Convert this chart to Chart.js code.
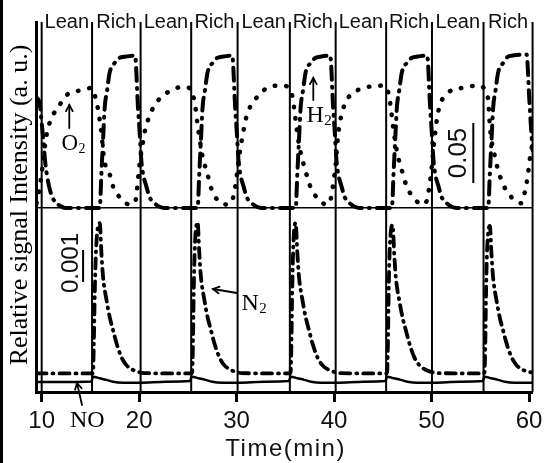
<!DOCTYPE html>
<html>
<head>
<meta charset="utf-8">
<script src="https://cdn.jsdelivr.net/npm/chart.js@4/dist/chart.umd.min.js"></script>
<style>
  html, body { margin: 0; padding: 0; background: #fff; }
  #wrap { width: 547px; height: 463px; position: relative; }
</style>
</head>
<body>
<div id="wrap"><canvas id="c" width="547" height="463"></canvas></div>
<script>
// ---------- data ----------
// gas switching times (min) and phase names
const switchTimes = [10.0, 15.17, 20.15, 25.34, 30.1, 35.46, 40.16, 45.34, 50.04, 55.33, 60.36];
const phaseLabels = ['Lean', 'Rich', 'Lean', 'Rich', 'Lean', 'Rich', 'Lean', 'Rich', 'Lean', 'Rich'];
const xTickValues = [10, 20, 30, 40, 50, 60];

// H2 (upper panel, a.u.)
const h2Time = [9.47, 9.8, 10.0, 10.17, 10.34, 10.51, 10.85, 11.36, 11.87, 12.4,
  15.96, 16.13, 16.30, 16.47, 16.71, 16.98, 17.50, 17.96, 18.47, 19.58, 19.88, 20.05, 20.22, 20.39, 20.74, 21.07, 21.58, 22.10, 22.60,
  26.00, 26.17, 26.34, 26.51, 26.75, 27.02, 27.54, 28.00, 28.51, 29.55, 29.85, 30.02, 30.19, 30.36, 30.71, 31.04, 31.55, 32.07, 32.57,
  36.06, 36.23, 36.40, 36.57, 36.81, 37.08, 37.60, 38.06, 38.57, 39.60, 39.90, 40.07, 40.24, 40.41, 40.76, 41.09, 41.60, 42.12, 42.62,
  45.93, 46.10, 46.27, 46.44, 46.68, 46.95, 47.47, 47.93, 48.44, 49.55, 49.85, 50.02, 50.19, 50.36, 50.71, 51.04, 51.55, 52.07, 52.57,
  55.81, 55.98, 56.15, 56.32, 56.56, 56.83, 57.35, 57.81, 58.32, 59.75, 60.03, 60.20, 60.37];
const h2Val = [0.092, 0.087, 0.071, 0.057, 0.040, 0.029, 0.015, 0.005, 0.002, 0,
  0, 0.029, 0.057, 0.084, 0.098, 0.113, 0.121, 0.125, 0.126, 0.127, 0.084, 0.063, 0.040, 0.029, 0.018, 0.009, 0.004, 0.001, 0,
  0, 0.029, 0.057, 0.084, 0.098, 0.113, 0.121, 0.125, 0.126, 0.127, 0.084, 0.063, 0.040, 0.029, 0.018, 0.009, 0.004, 0.001, 0,
  0, 0.029, 0.057, 0.084, 0.098, 0.113, 0.121, 0.125, 0.126, 0.127, 0.084, 0.063, 0.040, 0.029, 0.018, 0.009, 0.004, 0.001, 0,
  0, 0.029, 0.057, 0.084, 0.098, 0.113, 0.121, 0.125, 0.126, 0.127, 0.084, 0.063, 0.040, 0.029, 0.018, 0.009, 0.004, 0.001, 0,
  0, 0.029, 0.057, 0.084, 0.098, 0.113, 0.121, 0.126, 0.127, 0.128, 0.090, 0.067, 0.048];

// O2 (upper panel, a.u.)
const o2Time = [9.47, 9.70, 9.90, 10.10, 10.44, 10.67, 11.13, 11.70, 12.55, 13.92, 15.10,
  15.45, 15.79, 15.96, 16.13, 16.30, 16.47, 16.98, 17.32, 18.00, 19.00, 19.50, 19.70, 19.85, 20.00,
  20.15, 20.32, 20.56, 20.89, 21.34, 22.09, 23.28, 24.47, 25.30,
  25.69, 25.84, 25.97, 26.18, 26.50, 27.02, 27.37, 28.22, 29.00, 29.55, 29.75, 29.93,
  30.10, 30.30, 30.60, 31.00, 31.50, 32.30, 33.33, 34.69, 35.37,
  35.75, 35.95, 36.10, 36.30, 36.60, 37.10, 37.50, 38.30, 39.20, 39.60, 39.80, 39.98,
  40.16, 40.40, 40.66, 41.17, 42.19, 43.55, 45.08, 45.30,
  45.65, 45.85, 46.00, 46.20, 46.50, 47.00, 47.40, 48.20, 49.10, 49.50, 49.70, 49.88,
  50.04, 50.30, 50.70, 51.70, 53.05, 54.80, 55.25,
  55.60, 55.81, 55.98, 56.49, 57.17, 58.19, 59.20, 59.56, 59.90, 60.10, 60.37];
const o2Val = [0.004, 0.013, 0.023, 0.035, 0.058, 0.067, 0.077, 0.084, 0.094, 0.098, 0.100,
  0.094, 0.082, 0.073, 0.063, 0.048, 0.038, 0.028, 0.018, 0.009, 0.003, 0.004, 0.009, 0.021, 0.033,
  0.043, 0.051, 0.063, 0.073, 0.082, 0.091, 0.098, 0.101, 0.099,
  0.088, 0.080, 0.071, 0.059, 0.043, 0.028, 0.017, 0.005, 0.003, 0.006, 0.013, 0.021,
  0.033, 0.045, 0.060, 0.076, 0.086, 0.094, 0.101, 0.102, 0.100,
  0.092, 0.080, 0.070, 0.058, 0.045, 0.030, 0.019, 0.008, 0.003, 0.006, 0.014, 0.024,
  0.036, 0.060, 0.074, 0.088, 0.097, 0.101, 0.102, 0.101,
  0.093, 0.081, 0.071, 0.059, 0.045, 0.030, 0.019, 0.008, 0.003, 0.006, 0.014, 0.024,
  0.036, 0.058, 0.081, 0.096, 0.100, 0.102, 0.101,
  0.095, 0.090, 0.068, 0.043, 0.023, 0.009, 0.004, 0.013, 0.029, 0.042, 0.055];

// N2 (lower panel, a.u.)
const n2Time = [9.47, 15.17, 15.27, 15.35, 15.45, 15.55, 15.68, 15.82, 15.96, 16.13, 16.30, 16.65, 16.98, 17.32, 17.67, 18.18, 18.69, 19.37, 19.88, 20.50,
  25.34, 25.44, 25.52, 25.60, 25.68, 25.78, 25.88, 26.00, 26.17, 26.34, 26.69, 27.02, 27.36, 27.71, 28.22, 28.73, 29.41, 29.92, 30.54,
  35.46, 35.54, 35.62, 35.70, 35.78, 35.87, 35.96, 36.06, 36.23, 36.40, 36.75, 37.08, 37.42, 37.77, 38.28, 38.79, 39.47, 39.98, 40.60,
  45.34, 45.44, 45.52, 45.60, 45.68, 45.78, 45.88, 46.00, 46.17, 46.34, 46.69, 47.02, 47.36, 47.71, 48.22, 48.73, 49.41, 49.92, 50.54,
  55.33, 55.43, 55.51, 55.59, 55.67, 55.77, 55.87, 55.98, 56.15, 56.32, 56.67, 57.00, 57.34, 57.69, 58.20, 58.71, 59.39, 59.90, 60.37];
const n2Val = [0.00058, 0.00058, 0.00062, 0.00150, 0.00313, 0.00422, 0.00494, 0.00522, 0.00528, 0.00434, 0.00359, 0.00288, 0.00234, 0.00194, 0.00153, 0.00109, 0.00084, 0.00069, 0.00063, 0.00059,
  0.00058, 0.00062, 0.00150, 0.00313, 0.00422, 0.00494, 0.00522, 0.00531, 0.00434, 0.00359, 0.00288, 0.00234, 0.00194, 0.00153, 0.00109, 0.00084, 0.00069, 0.00063, 0.00059,
  0.00058, 0.00062, 0.00150, 0.00313, 0.00422, 0.00494, 0.00522, 0.00528, 0.00434, 0.00359, 0.00288, 0.00234, 0.00194, 0.00153, 0.00109, 0.00084, 0.00069, 0.00063, 0.00059,
  0.00058, 0.00062, 0.00150, 0.00313, 0.00422, 0.00488, 0.00515, 0.00522, 0.00430, 0.00356, 0.00286, 0.00233, 0.00193, 0.00153, 0.00109, 0.00084, 0.00069, 0.00063, 0.00059,
  0.00058, 0.00062, 0.00150, 0.00313, 0.00422, 0.00485, 0.00512, 0.00519, 0.00428, 0.00355, 0.00285, 0.00232, 0.00192, 0.00152, 0.00109, 0.00084, 0.00069, 0.00063, 0.00061];

// NO (lower panel, a.u.)
const noTime = [9.47, 15.10, 15.27, 15.96, 16.64, 17.32, 18.34, 20.05, 22.77, 25.20,
  25.40, 26.10, 26.80, 27.50, 28.50, 30.20, 32.90, 35.35,
  35.55, 36.25, 36.95, 37.65, 38.65, 40.30, 43.00, 45.25,
  45.43, 46.13, 46.83, 47.53, 48.53, 50.20, 52.90, 55.25,
  55.42, 56.12, 56.82, 57.52, 58.52, 60.37];
const noVal = [0.00031, 0.00033, 0.00048, 0.00043, 0.00038, 0.00032, 0.00029, 0.00029, 0.00032, 0.00034,
  0.00048, 0.00043, 0.00038, 0.00032, 0.00029, 0.00029, 0.00032, 0.00034,
  0.00048, 0.00043, 0.00038, 0.00032, 0.00029, 0.00029, 0.00032, 0.00034,
  0.00048, 0.00043, 0.00038, 0.00032, 0.00029, 0.00029, 0.00032, 0.00034,
  0.00048, 0.00043, 0.00038, 0.00032, 0.00029, 0.00029];

// scale bars (a.u.)
const upperScaleBar = 0.05;
const lowerScaleBar = 0.001;

// ---------- helpers ----------
const pts = (t, v) => t.map((x, i) => ({ x: x, y: v[i] }));
const SANS = '"Liberation Sans", Arial, sans-serif';
const SERIF = '"Liberation Serif", "Times New Roman", serif';

function arrow(ctx, x1, y1, x2, y2) {
  ctx.save();
  ctx.strokeStyle = '#000';
  ctx.lineWidth = 1.8;
  ctx.lineCap = 'round';
  ctx.beginPath(); ctx.moveTo(x1, y1); ctx.lineTo(x2, y2); ctx.stroke();
  const a = Math.atan2(y2 - y1, x2 - x1), L = 7, s = 0.5;
  ctx.beginPath();
  ctx.moveTo(x2 - L * Math.cos(a - s), y2 - L * Math.sin(a - s));
  ctx.lineTo(x2, y2);
  ctx.lineTo(x2 - L * Math.cos(a + s), y2 - L * Math.sin(a + s));
  ctx.stroke();
  ctx.restore();
}
function chem(ctx, main, sub, x, y, size) {
  ctx.save();
  ctx.fillStyle = '#000';
  ctx.textAlign = 'left'; ctx.textBaseline = 'alphabetic';
  ctx.font = size + 'px ' + SERIF;
  ctx.fillText(main, x, y);
  const w = ctx.measureText(main).width;
  if (sub) { ctx.font = Math.round(size * 0.62) + 'px ' + SERIF; ctx.fillText(sub, x + w + 0.5, y + 3); }
  ctx.restore();
}

const decor = {
  id: 'decor',
  beforeDatasetsDraw(chart) {
    const { ctx, chartArea: ca, scales } = chart;
    ctx.save();
    ctx.strokeStyle = '#000';
    ctx.lineWidth = 2;
    switchTimes.forEach(t => {
      const x = scales.x.getPixelForValue(t);
      ctx.beginPath(); ctx.moveTo(x, ca.top); ctx.lineTo(x, ca.bottom); ctx.stroke();
    });
    ctx.restore();
  },
  afterDraw(chart) {
    const { ctx, chartArea: ca, scales } = chart;
    const X = scales.x, YU = scales.yU, YL = scales.yL;
    ctx.save();
    // left frame line
    ctx.fillStyle = '#000';
    ctx.fillRect(0, 0, 3, 463);
    // phase labels
    ctx.font = '20px ' + SANS;
    ctx.textAlign = 'center'; ctx.textBaseline = 'alphabetic';
    ctx.fillStyle = '#111';
    phaseLabels.forEach((lab, i) => {
      const xm = (X.getPixelForValue(switchTimes[i]) + X.getPixelForValue(switchTimes[i + 1])) / 2;
      ctx.fillText(lab, xm, 28);
    });
    // x title
    ctx.save();
    ctx.font = '24px ' + SANS;
    try { ctx.letterSpacing = '1.5px'; } catch (e) {}
    ctx.textAlign = 'center';
    ctx.fillText('Time(min)', (ca.left + ca.right) / 2 + 1, 456);
    ctx.restore();
    // y title
    ctx.save();
    ctx.translate(27, 205);
    ctx.rotate(-Math.PI / 2);
    ctx.font = '26px ' + SERIF;
    ctx.textAlign = 'center'; ctx.textBaseline = 'alphabetic';
    ctx.fillStyle = '#000';
    ctx.fillText('Relative signal Intensity (a. u.)', 0, 0);
    ctx.restore();
    // scale bars
    ctx.strokeStyle = '#000'; ctx.lineWidth = 2;
    const xb1 = X.getPixelForValue(54.28);
    ctx.beginPath();
    ctx.moveTo(xb1, YU.getPixelForValue(0.0208));
    ctx.lineTo(xb1, YU.getPixelForValue(0.0208 + upperScaleBar));
    ctx.stroke();
    const xb2 = X.getPixelForValue(14.25);
    ctx.beginPath();
    ctx.moveTo(xb2, YL.getPixelForValue(0.00344));
    ctx.lineTo(xb2, YL.getPixelForValue(0.00344 + lowerScaleBar));
    ctx.stroke();
    ctx.save();
    ctx.translate(466, 153); ctx.rotate(-Math.PI / 2);
    ctx.font = '26px ' + SANS; ctx.textAlign = 'center'; ctx.fillStyle = '#111';
    ctx.fillText(String(upperScaleBar), 0, 0);
    ctx.restore();
    ctx.save();
    ctx.translate(77.5, 263); ctx.rotate(-Math.PI / 2);
    ctx.font = '24px ' + SANS; ctx.textAlign = 'center'; ctx.fillStyle = '#111';
    ctx.fillText('0.001', 0, 0);
    ctx.restore();
    // species annotations
    arrow(ctx, 69.3, 128, 69.3, 105);
    chem(ctx, 'O', '2', 61.5, 150, 23);
    arrow(ctx, 313.3, 100, 313.3, 78);
    chem(ctx, 'H', '2', 306.5, 121.5, 24);
    arrow(ctx, 237, 293, 213, 289);
    chem(ctx, 'N', '2', 241.5, 310, 24);
    arrow(ctx, 82, 405, 77, 383);
    chem(ctx, 'NO', '', 70, 427, 24);
    ctx.restore();
  }
};

const common = { pointRadius: 0, fill: false, borderColor: '#000', cubicInterpolationMode: 'monotone', borderJoinStyle: 'round' };

new Chart(document.getElementById('c'), {
  type: 'line',
  data: {
    datasets: [
      Object.assign({ label: 'H2', data: pts(h2Time, h2Val), yAxisID: 'yU', borderWidth: 4, borderDash: [13, 7, 1, 7], borderCapStyle: 'round' }, common),
      Object.assign({ label: 'O2', data: pts(o2Time, o2Val), yAxisID: 'yU', borderWidth: 4.5, borderDash: [0.5, 11], borderCapStyle: 'round' }, common),
      Object.assign({ label: 'N2', data: pts(n2Time, n2Val), yAxisID: 'yL', borderWidth: 3.8, borderDash: [10, 6, 1, 6], borderCapStyle: 'round' }, common),
      Object.assign({ label: 'NO', data: pts(noTime, noVal), yAxisID: 'yL', borderWidth: 2.5 }, common)
    ]
  },
  options: {
    responsive: false,
    animation: false,
    events: [],
    parsing: false,
    layout: { padding: { left: 36.5, right: 12.5, top: 22, bottom: 23.2 } },
    plugins: { legend: { display: false }, tooltip: { enabled: false } },
    scales: {
      x: {
        type: 'linear', min: 9.47, max: 60.37,
        afterBuildTicks: s => { s.ticks = xTickValues.map(v => ({ value: v })); },
        ticks: { display: true, font: { family: SANS, size: 24 }, color: '#111', padding: 4.5, maxRotation: 0, autoSkip: false, callback: v => String(v) },
        grid: { display: true, drawOnChartArea: false, drawTicks: true, tickLength: 10, tickWidth: 3, tickColor: '#000' },
        border: { display: true, width: 3, color: '#000' }
      },
      yL: {
        type: 'linear', position: 'left', min: 0, max: 0.0115625,
        ticks: { display: false },
        grid: { display: false, drawTicks: false },
        border: { display: true, width: 3, color: '#000' }
      },
      yU: {
        type: 'linear', position: 'left', min: -0.15333, max: 0.155,
        afterBuildTicks: s => { s.ticks = [{ value: 0 }]; },
        ticks: { display: false },
        grid: { display: true, drawOnChartArea: true, drawTicks: false, color: '#000', lineWidth: 1.5 },
        border: { display: false }
      }
    }
  },
  plugins: [decor]
});
</script>
</body>
</html>
